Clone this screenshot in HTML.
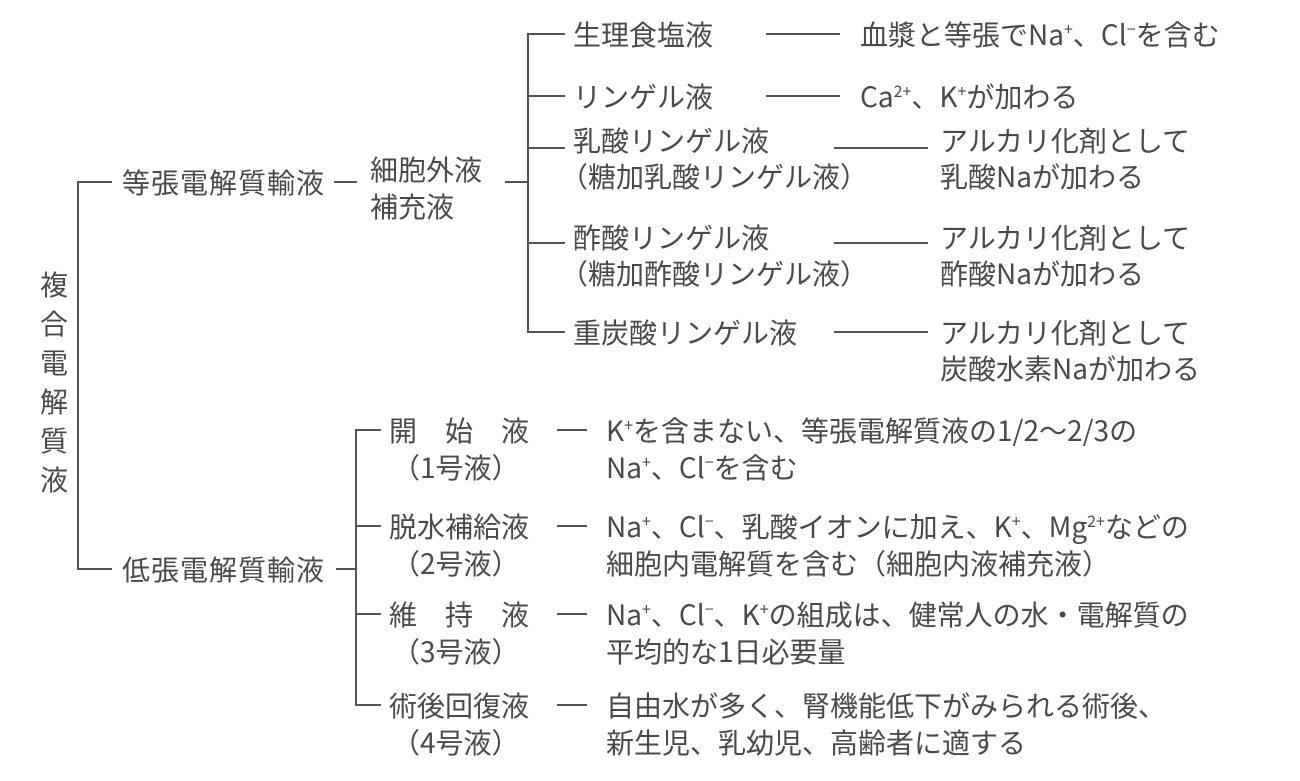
<!DOCTYPE html>
<html><head><meta charset="utf-8"><style>
body{margin:0;background:#fff;}
#c{position:relative;width:1300px;height:781px;overflow:hidden;background:#fff;font-family:"Noto Sans CJK JP","Liberation Sans",sans-serif;color:#4a4a4a;font-size:28px;}
.t{position:absolute;line-height:36px;white-space:nowrap;}
.h{position:absolute;height:0;border-top:2px solid #555;}
.v{position:absolute;width:0;border-left:2px solid #555;}
sup{font-size:16px;vertical-align:10px;line-height:0;}
</style></head><body><div id="c">
<!-- root -->
<div class="t" style="left:40px;top:265px;width:30px;line-height:39px;white-space:normal;">複<br>合<br>電<br>解<br>質<br>液</div>
<div class="v" style="left:77px;top:181px;height:389px;"></div>
<div class="h" style="left:77px;top:181px;width:35px;"></div>
<div class="h" style="left:77px;top:568px;width:35px;"></div>

<!-- isotonic -->
<div class="t" style="left:122px;top:164px;letter-spacing:1px;">等張電解質輸液</div>
<div class="h" style="left:334px;top:181px;width:23px;"></div>
<div class="t" style="left:370px;top:151px;line-height:37px;">細胞外液<br>補充液</div>
<div class="h" style="left:505px;top:181px;width:23px;"></div>
<div class="v" style="left:527px;top:33px;height:299px;"></div>
<div class="h" style="left:527px;top:33px;width:38px;"></div>
<div class="h" style="left:527px;top:95px;width:38px;"></div>
<div class="h" style="left:527px;top:147px;width:38px;"></div>
<div class="h" style="left:527px;top:242px;width:38px;"></div>
<div class="h" style="left:527px;top:331px;width:38px;"></div>

<div class="t" style="left:573px;top:16px;">生理食塩液</div>
<div class="h" style="left:766px;top:33px;width:74px;"></div>
<div class="t" style="left:860px;top:16px;">血漿と等張でNa<sup>+</sup>、Cl<sup>−</sup>を含む</div>

<div class="t" style="left:573px;top:78px;">リンゲル液</div>
<div class="h" style="left:766px;top:95px;width:74px;"></div>
<div class="t" style="left:860px;top:78px;">Ca<sup>2+</sup>、K<sup>+</sup>が加わる</div>

<div class="t" style="left:573px;top:122px;">乳酸リンゲル液</div>
<div class="t" style="left:560px;top:158px;">（糖加乳酸リンゲル液）</div>
<div class="h" style="left:834px;top:147px;width:94px;"></div>
<div class="t" style="left:940px;top:122px;">アルカリ化剤として</div>
<div class="t" style="left:940px;top:158px;">乳酸Naが加わる</div>

<div class="t" style="left:573px;top:219px;">酢酸リンゲル液</div>
<div class="t" style="left:560px;top:255px;">（糖加酢酸リンゲル液）</div>
<div class="h" style="left:834px;top:242px;width:94px;"></div>
<div class="t" style="left:940px;top:219px;">アルカリ化剤として</div>
<div class="t" style="left:940px;top:255px;">酢酸Naが加わる</div>

<div class="t" style="left:573px;top:314px;">重炭酸リンゲル液</div>
<div class="h" style="left:834px;top:331px;width:94px;"></div>
<div class="t" style="left:940px;top:314px;">アルカリ化剤として</div>
<div class="t" style="left:940px;top:350px;">炭酸水素Naが加わる</div>

<!-- hypotonic -->
<div class="t" style="left:122px;top:551px;letter-spacing:1px;">低張電解質輸液</div>
<div class="h" style="left:336px;top:568px;width:20px;"></div>
<div class="v" style="left:355px;top:429px;height:277px;"></div>
<div class="h" style="left:355px;top:429px;width:26px;"></div>
<div class="h" style="left:355px;top:525px;width:26px;"></div>
<div class="h" style="left:355px;top:613px;width:26px;"></div>
<div class="h" style="left:355px;top:704px;width:26px;"></div>

<div class="t" style="left:389px;top:412px;">開　始　液</div>
<div class="t" style="left:392px;top:449px;">（1号液）</div>
<div class="h" style="left:557px;top:429px;width:30px;"></div>
<div class="t" style="left:606px;top:412px;">K<sup>+</sup>を含まない、等張電解質液の1/2〜2/3の</div>
<div class="t" style="left:606px;top:449px;">Na<sup>+</sup>、Cl<sup>−</sup>を含む</div>

<div class="t" style="left:389px;top:508px;">脱水補給液</div>
<div class="t" style="left:392px;top:545px;">（2号液）</div>
<div class="h" style="left:557px;top:525px;width:30px;"></div>
<div class="t" style="left:606px;top:508px;">Na<sup>+</sup>、Cl<sup>−</sup>、乳酸イオンに加え、K<sup>+</sup>、Mg<sup>2+</sup>などの</div>
<div class="t" style="left:606px;top:545px;">細胞内電解質を含む（細胞内液補充液）</div>

<div class="t" style="left:389px;top:596px;">維　持　液</div>
<div class="t" style="left:392px;top:633px;">（3号液）</div>
<div class="h" style="left:557px;top:613px;width:30px;"></div>
<div class="t" style="left:606px;top:596px;">Na<sup>+</sup>、Cl<sup>−</sup>、K<sup>+</sup>の組成は、健常人の水・電解質の</div>
<div class="t" style="left:606px;top:633px;">平均的な1日必要量</div>

<div class="t" style="left:389px;top:687px;">術後回復液</div>
<div class="t" style="left:392px;top:724px;">（4号液）</div>
<div class="h" style="left:557px;top:704px;width:30px;"></div>
<div class="t" style="left:606px;top:687px;">自由水が多く、腎機能低下がみられる術後、</div>
<div class="t" style="left:606px;top:724px;">新生児、乳幼児、高齢者に適する</div>
</div></body></html>
